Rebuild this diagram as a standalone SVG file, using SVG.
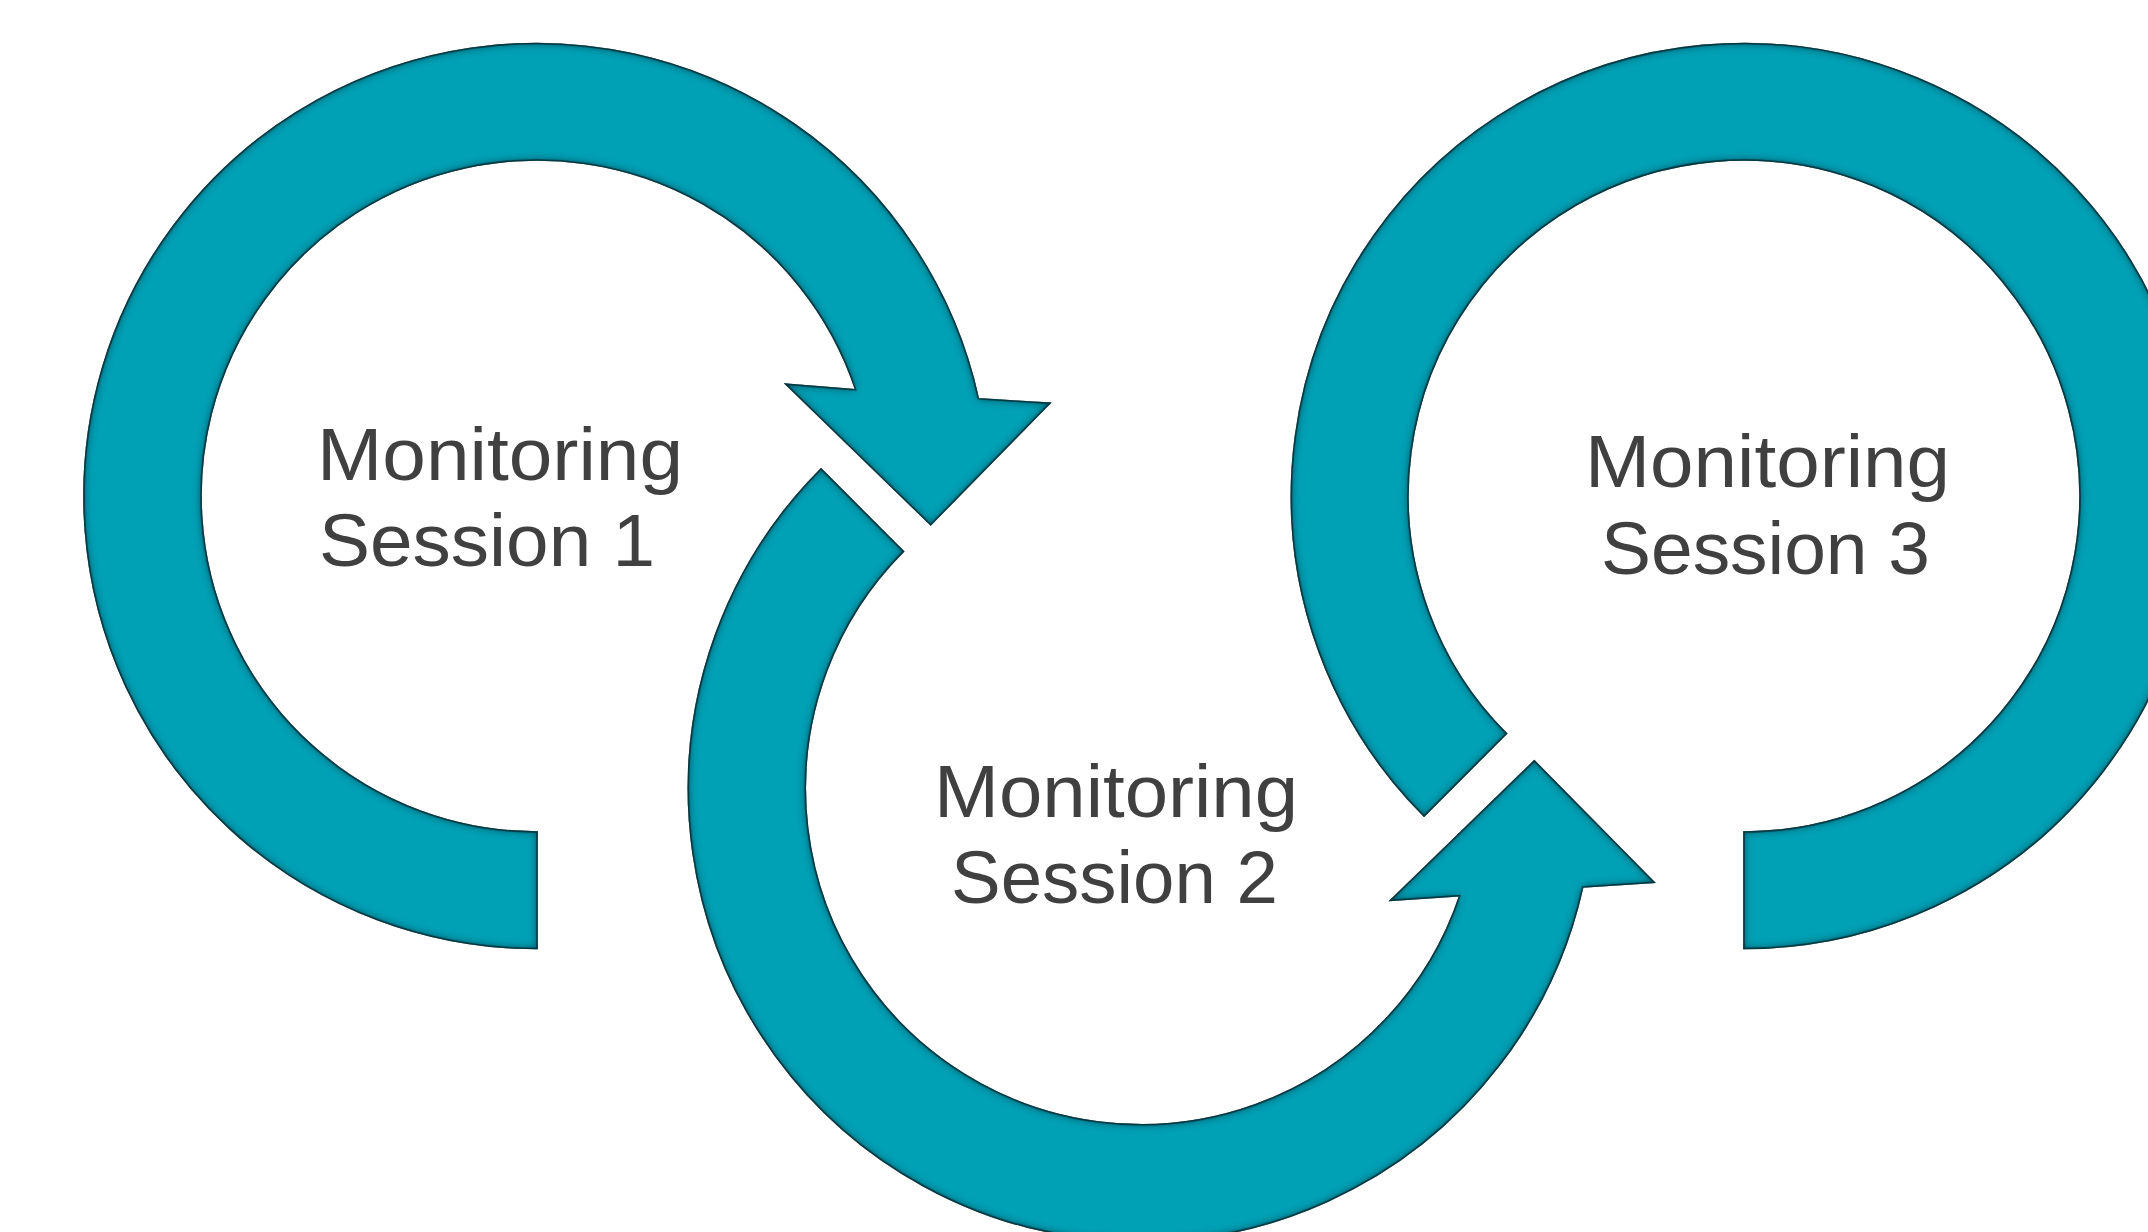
<svg xmlns="http://www.w3.org/2000/svg" width="2148" height="1232" viewBox="0 0 2148 1232">
  <style>
    .ring { fill: #00A0B5; stroke: #0b4650; stroke-width: 1.6; stroke-linejoin: miter; filter: url(#bevel); }
    .label { font-family: "Liberation Sans", Arial, sans-serif; font-size: 74px; fill: #404040; }
  </style>
  <defs>
    <!-- dark inner edge along every outline: a crisp rim plus a soft falloff -->
    <filter id="bevel" x="-10%" y="-10%" width="120%" height="120%" color-interpolation-filters="sRGB">
      <feFlood flood-color="#00303a" flood-opacity="1" result="ink"/>
      <feComposite in="ink" in2="SourceAlpha" operator="out" result="outside"/>
      <feGaussianBlur in="outside" stdDeviation="1.5" result="sharp"/>
      <feComposite in="sharp" in2="SourceAlpha" operator="in" result="rim"/>
      <feGaussianBlur in="outside" stdDeviation="5" result="soft"/>
      <feComposite in="soft" in2="SourceAlpha" operator="in" result="glow"/>
      <feComponentTransfer in="glow" result="glowDim">
        <feFuncA type="linear" slope="0.8"/>
      </feComponentTransfer>
      <feMerge>
        <feMergeNode in="SourceGraphic"/>
        <feMergeNode in="glowDim"/>
        <feMergeNode in="rim"/>
      </feMerge>
    </filter>
  </defs>

  <rect width="2148" height="1232" fill="#ffffff"/>

  <g id="connectors">
    <!-- ring 1: from the flat bottom end, round the left, arrow at upper right -->
    <path id="ring-1" class="ring" d="M 537 948.5 A 452.5 452.5 0 1 1 978.4 398.8 L 1049.7 403.3 L 930.7 524.7 L 786 384.3 L 855.8 389.9 A 336 336 0 1 0 537 832 Z"/>
    <!-- ring 2: from the upper-left cut, round the bottom, arrow at upper right -->
    <path id="ring-2" class="ring" d="M 821.0 469.0 A 452.5 452.5 0 1 0 1582.7 887 L 1654 882.3 L 1534.3 761 L 1390.7 900.3 L 1459.8 895.7 A 336 336 0 1 1 903.4 551.4 Z"/>
    <!-- ring 3: from the lower-left cut, round the top, flat bottom end -->
    <path id="ring-3" class="ring" d="M 1424.0 816.0 A 452.5 452.5 0 1 1 1744 948.5 L 1744 832 A 336 336 0 1 0 1506.4 733.6 Z"/>
  </g>

  <g id="session-1">
    <text class="label" x="317" y="480" textLength="366" lengthAdjust="spacingAndGlyphs">Monitoring</text>
    <text class="label" x="319" y="566" textLength="336" lengthAdjust="spacingAndGlyphs">Session 1</text>
  </g>
  <g id="session-2">
    <text class="label" x="934" y="817" textLength="364" lengthAdjust="spacingAndGlyphs">Monitoring</text>
    <text class="label" x="951" y="903" textLength="327" lengthAdjust="spacingAndGlyphs">Session 2</text>
  </g>
  <g id="session-3">
    <text class="label" x="1585" y="487" textLength="365" lengthAdjust="spacingAndGlyphs">Monitoring</text>
    <text class="label" x="1601" y="574" textLength="329" lengthAdjust="spacingAndGlyphs">Session 3</text>
  </g>
</svg>
